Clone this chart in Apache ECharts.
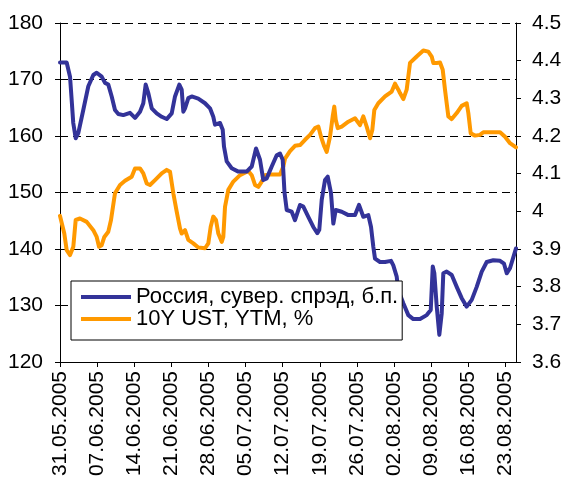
<!DOCTYPE html>
<html>
<head>
<meta charset="utf-8">
<script src="https://cdn.jsdelivr.net/npm/echarts@6/dist/echarts.min.js"></script>
<style>
html,body{margin:0;padding:0;background:#fff;}
#chart{width:566px;height:485px;}
</style>
</head>
<body>
<div id="chart"></div>
<script>
// Week tick labels (one every 7 calendar days from 31.05.2005)
const tickLabels = ['31.05.2005','07.06.2005','14.06.2005','21.06.2005','28.06.2005','05.07.2005','12.07.2005','19.07.2005','26.07.2005','02.08.2005','09.08.2005','16.08.2005','23.08.2005'];

// Series names
const nameRussia = 'Россия, сувер. спрэд, б.п.';
const nameUST = '10Y UST, YTM, %';

// Russia sovereign spread: days since 31.05.2005 and values (bp)
const russiaDays = [0,1.26,1.89,2.2,2.5,2.96,3.45,4.39,5.34,6.28,6.92,7.86,8.49,9.11,9.75,10.37,11,11.94,13.2,14.15,15.09,15.71,16.16,16.65,17.3,18.24,19.18,20.12,21.07,21.69,22.5,22.95,23.26,23.58,24.2,24.84,26.08,27.35,28.29,28.91,29.23,30.18,30.69,30.93,31.44,32.38,33.63,35.21,36.16,36.97,37.29,37.72,38.34,38.98,39.93,40.87,41.49,42,42.34,42.76,43.7,44.32,45.27,45.89,46.83,47.77,48.53,48.9,49.36,49.98,50.49,51.11,51.55,52,53.13,54.38,55.64,56.39,57.2,58.15,58.66,59.09,59.41,60.35,61.3,62.43,62.86,63.5,63.8,64.75,65.69,66.63,67.9,69.16,69.92,70.3,70.6,71.05,71.54,71.99,72.29,72.93,73.88,74.82,75.76,76.7,77.65,78.59,79.54,80.48,81.72,82.99,83.74,84.25,84.87,86];
const russiaSpread = [173,173,170.5,166.4,162.3,159.6,160.5,164.6,168.8,170.8,171.2,170.5,169.4,169.1,167,164.6,163.9,163.7,164.1,163.2,164.3,165.8,169.1,167.6,164.9,164,163.4,163,164,167,169.1,168.2,164.3,164.9,166.7,167,166.6,165.8,164.9,163.4,162,162.3,161.1,158.1,155.5,154.3,153.7,153.7,154.6,157.8,157.9,155.8,152.2,152.5,154.6,156.6,156.9,155.8,150,146.9,146.6,145.1,147.8,147.5,145.7,143.9,142.8,143.4,148.7,152.2,152.8,149.9,144.5,146.9,146.6,146,146,147.8,145.7,146,143.9,140.4,138.3,137.7,137.7,137.9,137.1,135.1,132.7,130.4,128.3,127.6,127.6,128.3,129.2,136.9,135.7,129.8,124.8,128.6,135.7,136,135.4,133.3,131.3,129.8,131,133.3,136,137.7,138,137.9,137.4,135.7,136.6,140.1];

// 10Y UST yield: days since 31.05.2005 and values (%)
const ustDays = [0,0.81,1.26,1.89,2.51,2.96,3.77,5.04,6.28,6.92,7.36,7.86,8.36,9.11,9.62,10.37,11.32,12.26,13.52,14.15,15.09,15.71,16.35,16.97,17.92,19.18,20.12,20.75,21.37,22.01,22.63,22.95,23.58,24.2,25.14,26.08,27.35,27.97,28.42,28.91,29.42,29.86,30.5,30.8,31.12,31.74,32.69,33.95,35.51,36.16,36.78,37.4,38.04,38.66,39.61,41.49,42.12,42.44,43.38,44.32,45.27,46.21,47.15,48.09,48.72,49.23,49.85,50.3,50.92,51.43,51.73,52,52.38,53.13,54.38,55.64,56.58,57.2,57.84,58.47,58.9,59.28,60.03,61.3,62.56,63.18,63.81,64.12,64.75,65.38,66.01,67.27,68.52,69.46,70.1,70.41,71.05,71.67,72.18,72.61,73.24,73.88,74.82,75.76,76.7,77.01,77.46,78.27,79.21,79.84,81.1,82.99,83.93,84.87,86];
const ustYield = [3.988,3.941,3.897,3.884,3.906,3.977,3.981,3.972,3.950,3.932,3.906,3.910,3.932,3.946,3.977,4.048,4.070,4.081,4.092,4.114,4.114,4.101,4.074,4.070,4.083,4.101,4.110,4.105,4.048,3.999,3.955,3.941,3.950,3.924,3.915,3.904,3.902,3.915,3.959,3.986,3.977,3.941,3.919,3.932,4.012,4.057,4.079,4.096,4.107,4.096,4.070,4.065,4.079,4.096,4.098,4.098,4.119,4.140,4.160,4.174,4.176,4.190,4.203,4.221,4.225,4.198,4.172,4.158,4.198,4.252,4.278,4.243,4.221,4.225,4.238,4.247,4.229,4.252,4.225,4.194,4.216,4.269,4.287,4.305,4.318,4.339,4.323,4.314,4.298,4.323,4.394,4.411,4.427,4.424,4.411,4.394,4.394,4.395,4.376,4.323,4.252,4.245,4.261,4.280,4.287,4.261,4.207,4.201,4.203,4.210,4.210,4.210,4.198,4.181,4.170];

const pairs = (xs, ys) => xs.map((x, i) => [x, ys[i]]);
const FONT = "'Liberation Sans', Arial, sans-serif";

const chart = echarts.init(document.getElementById('chart'), null, {renderer: 'canvas'});
chart.setOption({
  animation: false,
  backgroundColor: '#ffffff',
  grid: {left: 60, right: 50, top: 23, bottom: 123, containLabel: false},
  legend: {
    orient: 'vertical',
    left: 71, top: 281,
    padding: [5, 4, 10, 10],
    itemGap: 0,
    itemWidth: 50, itemHeight: 4,
    icon: 'rect',
    backgroundColor: '#ffffff',
    borderColor: '#000000',
    borderWidth: 1,
    textStyle: {fontFamily: FONT, fontSize: 22, color: '#000', lineHeight: 21},
    data: [nameRussia, nameUST]
  },
  xAxis: {
    type: 'value',
    min: 0, max: 86, interval: 7,
    axisLine: {show: true, lineStyle: {color: '#000', width: 1}},
    axisTick: {show: true, length: 5, lineStyle: {color: '#000'}},
    splitLine: {show: false},
    axisLabel: {
      rotate: 90, margin: 9, fontFamily: FONT, fontSize: 21, color: '#000',
      showMaxLabel: false,
      formatter: v => (v % 7 === 0 && tickLabels[v / 7]) ? tickLabels[v / 7] : ''
    }
  },
  yAxis: [{
    type: 'value', position: 'left',
    min: 120, max: 180, interval: 10,
    axisLine: {show: true, lineStyle: {color: '#000', width: 1}},
    axisTick: {show: true, length: 5, lineStyle: {color: '#000'}},
    splitLine: {show: true, lineStyle: {color: '#000', width: 1, type: [8, 5]}},
    axisLabel: {margin: 17, fontFamily: FONT, fontSize: 21, color: '#000'}
  }, {
    type: 'value', position: 'right',
    min: 3.6, max: 4.5, interval: 0.1,
    axisLine: {show: true, lineStyle: {color: '#000', width: 1}},
    axisTick: {show: true, length: 5, lineStyle: {color: '#000'}},
    splitLine: {show: false},
    axisLabel: {margin: 16, fontFamily: FONT, fontSize: 21, color: '#000',
      formatter: v => String(parseFloat(v.toFixed(1)))}
  }],
  series: [{
    name: nameRussia, type: 'line', yAxisIndex: 0,
    data: pairs(russiaDays, russiaSpread),
    showSymbol: false, symbol: 'none',
    lineStyle: {color: '#333399', width: 4, join: 'round', cap: 'round'},
    itemStyle: {color: '#333399'},
    z: 3
  }, {
    name: nameUST, type: 'line', yAxisIndex: 1,
    data: pairs(ustDays, ustYield),
    showSymbol: false, symbol: 'none',
    lineStyle: {color: '#FF9900', width: 4, join: 'round', cap: 'round'},
    itemStyle: {color: '#FF9900'},
    z: 2
  }]
});
</script>
</body>
</html>
